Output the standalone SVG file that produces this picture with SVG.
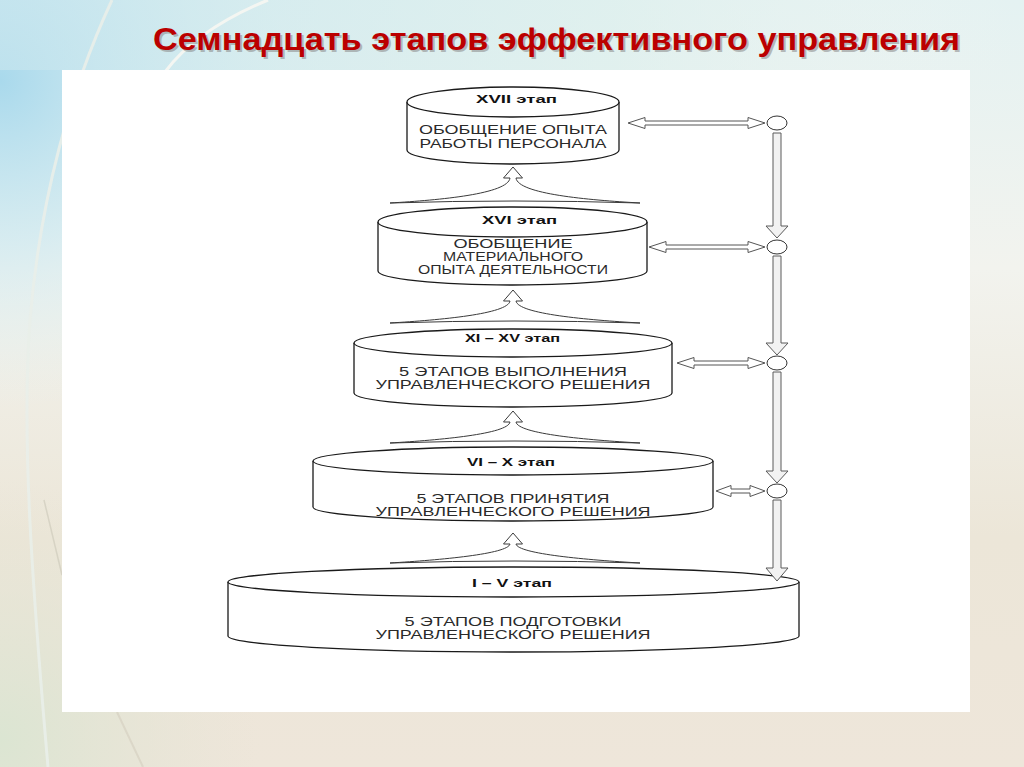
<svg xmlns="http://www.w3.org/2000/svg" width="1024" height="767" viewBox="0 0 1024 767">
<defs>
<linearGradient id="bgv" x1="0" y1="0" x2="0" y2="1">
<stop offset="0" stop-color="#e4f2f2"/>
<stop offset="0.35" stop-color="#f2f3ee"/>
<stop offset="0.7" stop-color="#ece6d8"/>
<stop offset="1" stop-color="#eee6da"/>
</linearGradient>
<radialGradient id="blue" cx="0" cy="80" r="330" gradientUnits="userSpaceOnUse">
<stop offset="0" stop-color="#a9d9ec"/>
<stop offset="0.5" stop-color="#cde9f1" stop-opacity="0.7"/>
<stop offset="1" stop-color="#e6f3f3" stop-opacity="0"/>
</radialGradient>
<radialGradient id="green" cx="0" cy="740" r="260" gradientUnits="userSpaceOnUse">
<stop offset="0" stop-color="#dbe5d2"/>
<stop offset="1" stop-color="#e4e3d4" stop-opacity="0"/>
</radialGradient>
<linearGradient id="band" x1="0" y1="0" x2="1" y2="0">
<stop offset="0" stop-color="#c6e5ee" stop-opacity="0.7"/>
<stop offset="0.6" stop-color="#dcefec" stop-opacity="0.6"/>
<stop offset="1" stop-color="#f6f6f2" stop-opacity="0"/>
</linearGradient>
</defs>
<style>
.cyl{fill:#ffffff;stroke:#1a1a1a;stroke-width:1.3}
.fan{fill:#ffffff;stroke:#3a3a3a;stroke-width:1}
.harr{fill:#ffffff;stroke:#555;stroke-width:1}
.varr{fill:#f2f2f2;stroke:#5a5a5a;stroke-width:1}
.dot{fill:#ffffff;stroke:#333;stroke-width:1}
.lbl{font-family:"Liberation Sans",Arial,sans-serif;font-weight:bold;font-size:11px;fill:#111}
.txt{font-family:"Liberation Sans",Arial,sans-serif;font-size:12.5px;fill:#2a2a2a;text-anchor:middle}
.title{font-family:"Liberation Sans",Arial,sans-serif;font-weight:bold;font-size:31px}
</style>

<g id="background">
<rect x="0" y="0" width="1024" height="767" fill="url(#bgv)"/>
<rect x="0" y="0" width="1024" height="767" fill="url(#blue)"/>
<rect x="0" y="420" width="400" height="347" fill="url(#green)"/>
<rect x="0" y="0" width="1024" height="70" fill="url(#band)"/>
<path d="M112,0 C70,90 40,200 30,320 C22,430 30,560 48,767" fill="none" stroke="#e9eee9" stroke-width="3" opacity="0.9"/>
<path d="M268,0 C220,20 185,45 165,72" fill="none" stroke="#f4f6f2" stroke-width="3"/>
<path d="M44,500 L62,575" fill="none" stroke="#c9c6b8" stroke-width="1.5" opacity="0.6"/>
<path d="M117,712 L143,767" fill="none" stroke="#d8d3c4" stroke-width="2" opacity="0.8"/>
<rect x="62" y="70" width="908" height="642" fill="#ffffff"/>
</g>

<g id="title">
<text class="title" x="155" y="52" fill="#8a8a8a" opacity="0.55" textLength="807" lengthAdjust="spacingAndGlyphs">Семнадцать этапов эффективного  управления</text>
<text class="title" x="153" y="50" fill="#bb0000" textLength="807" lengthAdjust="spacingAndGlyphs">Семнадцать этапов эффективного  управления</text>
</g>

<g id="stage-17">
<path class="cyl" d="M407,102 L407,150 A106,14 0 0 0 619,150 L619,102"/>
<ellipse class="cyl" cx="513" cy="102" rx="106" ry="15"/>
<text class="lbl" x="476" y="103" textLength="81" lengthAdjust="spacingAndGlyphs">XVII этап</text>
<text class="txt" x="513" y="134" textLength="188" lengthAdjust="spacingAndGlyphs">ОБОБЩЕНИЕ ОПЫТА</text>
<text class="txt" x="513" y="148" textLength="187" lengthAdjust="spacingAndGlyphs">РАБОТЫ ПЕРСОНАЛА</text>
</g>

<g id="stage-16">
<path class="cyl" d="M378,222 L378,271 A134.5,14 0 0 0 647,271 L647,222"/>
<ellipse class="cyl" cx="512.5" cy="222" rx="134.5" ry="15"/>
<text class="lbl" x="482" y="224" textLength="75" lengthAdjust="spacingAndGlyphs">XVI  этап</text>
<text class="txt" x="513" y="248" textLength="119" lengthAdjust="spacingAndGlyphs">ОБОБЩЕНИЕ</text>
<text class="txt" x="513" y="261" textLength="140" lengthAdjust="spacingAndGlyphs">МАТЕРИАЛЬНОГО</text>
<text class="txt" x="513" y="274" textLength="190" lengthAdjust="spacingAndGlyphs">ОПЫТА ДЕЯТЕЛЬНОСТИ</text>
</g>

<g id="stage-11-15">
<path class="cyl" d="M354,343 L354,393 A159,14 0 0 0 672,393 L672,343"/>
<ellipse class="cyl" cx="513" cy="343" rx="159" ry="14"/>
<text class="lbl" x="465" y="342" textLength="95" lengthAdjust="spacingAndGlyphs">XI – XV этап</text>
<text class="txt" x="513" y="376" textLength="228" lengthAdjust="spacingAndGlyphs">5 ЭТАПОВ ВЫПОЛНЕНИЯ</text>
<text class="txt" x="513" y="389" textLength="275" lengthAdjust="spacingAndGlyphs">УПРАВЛЕНЧЕСКОГО РЕШЕНИЯ</text>
</g>

<g id="stage-6-10">
<path class="cyl" d="M313,461 L313,507 A200,14 0 0 0 713,507 L713,461"/>
<ellipse class="cyl" cx="513" cy="461" rx="200" ry="14"/>
<text class="lbl" x="467" y="466" textLength="88" lengthAdjust="spacingAndGlyphs">VI – X этап</text>
<text class="txt" x="513" y="503" textLength="193" lengthAdjust="spacingAndGlyphs">5 ЭТАПОВ ПРИНЯТИЯ</text>
<text class="txt" x="513" y="516" textLength="275" lengthAdjust="spacingAndGlyphs">УПРАВЛЕНЧЕСКОГО РЕШЕНИЯ</text>
</g>

<g id="stage-1-5">
<path class="cyl" d="M228,582 L228,636 A285.5,16 0 0 0 799,636 L799,582"/>
<ellipse class="cyl" cx="513.5" cy="582" rx="285.5" ry="15"/>
<text class="lbl" x="472" y="587" textLength="80" lengthAdjust="spacingAndGlyphs">I – V этап</text>
<text class="txt" x="513" y="626" textLength="217" lengthAdjust="spacingAndGlyphs">5 ЭТАПОВ ПОДГОТОВКИ</text>
<text class="txt" x="513" y="639" textLength="275" lengthAdjust="spacingAndGlyphs">УПРАВЛЕНЧЕСКОГО РЕШЕНИЯ</text>
</g>

<g id="connectors">
<path class="fan" d="M390,203 C440,200 508,194 510,178 L503.5,178 L513,167 L522.5,178 L516,178 C518,194 588,200 640,203 Q515,199 390,203 Z"/>
<path class="fan" d="M390,323 C440,320 508,314 510,301 L503.5,301 L513,290 L522.5,301 L516,301 C518,314 588,320 640,323 Q515,319 390,323 Z"/>
<path class="fan" d="M390,443 C440,440 508,434 510,422 L503.5,422 L513,411 L522.5,422 L516,422 C518,434 588,440 640,443 Q515,439 390,443 Z"/>
<path class="fan" d="M390,563 C440,560 508,554 510,544 L503.5,544 L513,533 L522.5,544 L516,544 C518,554 588,560 640,563 Q515,559 390,563 Z"/>
<path class="harr" d="M628,123 L645,117.5 L645,121 L748,121 L748,117.5 L765,123 L748,128.5 L748,125 L645,125 L645,128.5 Z"/>
<path class="harr" d="M649,247 L666,241.5 L666,245 L748,245 L748,241.5 L765,247 L748,252.5 L748,249 L666,249 L666,252.5 Z"/>
<path class="harr" d="M677,363 L694,357.5 L694,361 L748,361 L748,357.5 L765,363 L748,368.5 L748,365 L694,365 L694,368.5 Z"/>
<path class="harr" d="M716,491 L731,485.5 L731,489 L750,489 L750,485.5 L765,491 L750,496.5 L750,493 L731,493 L731,496.5 Z"/>
<path class="varr" d="M773,133 L781,133 L781,226 L788,226 L777,238 L766,226 L773,226 Z"/>
<path class="varr" d="M773,256 L781,256 L781,343 L788,343 L777,355 L766,343 L773,343 Z"/>
<path class="varr" d="M773,372 L781,372 L781,471 L788,471 L777,483 L766,471 L773,471 Z"/>
<path class="varr" d="M773,500 L781,500 L781,568 L788,568 L777,581 L766,568 L773,568 Z"/>
<ellipse class="dot" cx="777" cy="123" rx="10" ry="7"/>
<ellipse class="dot" cx="777" cy="247" rx="10" ry="7"/>
<ellipse class="dot" cx="777" cy="363" rx="10" ry="7"/>
<ellipse class="dot" cx="777" cy="491" rx="10" ry="7"/>
</g>
</svg>
